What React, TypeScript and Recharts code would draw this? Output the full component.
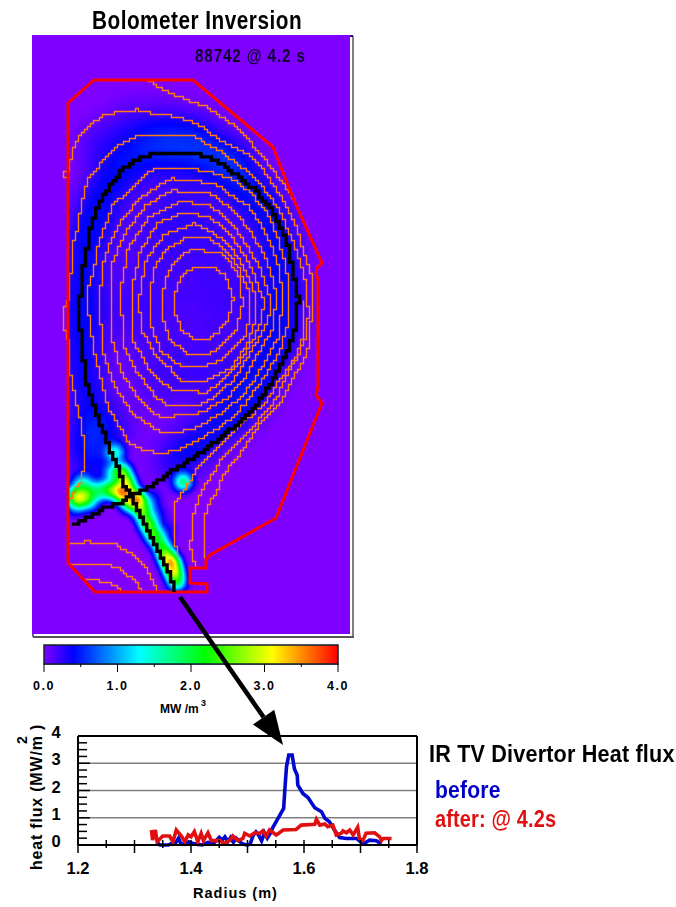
import React from 'react'
import {
  ScatterChart,
  Scatter,
  LineChart,
  Line,
  XAxis,
  YAxis,
  ReferenceLine,
} from 'recharts'

type Pt = [number, number]
type Hot = [number, number, number]

// colour scale of the inversion, MW/m3
const COLOR_LEVELS = [0, 0.4, 1.3, 2.2, 3.1, 4]
const COLOR_RGB = [
  [128, 0, 255],
  [0, 0, 255],
  [0, 255, 255],
  [0, 255, 0],
  [255, 255, 0],
  [255, 0, 0],
]
const COLORBAR_TICKS = [0, 0.5, 1, 1.5, 2, 2.5, 3, 3.5, 4]

// map coordinates
const vessel: Pt[] = [
  [94, 80], [193, 80], [273, 147], [293, 198], [322, 263], [317, 268], [316, 273], [318, 280], [318, 387],
  [316, 395], [322, 403], [276, 518], [210, 555], [206, 560], [206, 568], [190, 568], [190, 583], [207, 584],
  [207, 592], [95, 592], [68, 563], [68, 103], [94, 80],
]

const separatrix: Pt[] = [
  [72, 525], [87, 518], [103, 508], [120, 502], [130, 495], [122, 482], [117, 463], [110, 450], [100, 423],
  [95, 407], [90, 393], [85, 380], [85, 367], [82, 357], [81, 332], [77, 327], [77, 300], [81, 293], [81, 270],
  [85, 260], [88, 237], [93, 217], [102, 197], [113, 180], [123, 168], [135, 160], [157, 152], [195, 152],
  [220, 163], [240, 177], [257, 192], [273, 212], [287, 243], [293, 273], [298, 300], [295, 327], [287, 353],
  [273, 380], [257, 403], [242, 420], [217, 440], [197, 455], [173, 470], [157, 482], [137, 492], [132, 497],
  [133, 503], [142, 520], [153, 543], [167, 567], [175, 590],
]

const ring1: Pt[] = [
  [195, 267], [212, 267], [223, 273], [228, 283], [233, 300], [227, 320], [217, 333], [208, 338], [193, 338],
  [182, 330], [175, 313], [174, 297], [177, 285], [183, 272], [195, 267],
]
const ring2: Pt[] = [
  [190, 250], [217, 251], [230, 262], [240, 280], [242, 303], [236, 330], [217, 350], [207, 354], [188, 353],
  [170, 340], [162, 317], [161, 297], [167, 273], [177, 257], [190, 250],
]
const ring3: Pt[] = [
  [187, 237], [208, 238], [225, 250], [237, 265], [248, 290], [250, 310], [245, 335], [224, 358], [202, 367],
  [183, 367], [160, 350], [150, 323], [149, 297], [155, 263], [168, 247], [187, 237],
]
const ring4: Pt[] = [
  [193, 223], [205, 228], [220, 238], [232, 250], [245, 270], [255, 295], [256, 315], [248, 343], [232, 367],
  [207, 380], [180, 380], [170, 367], [157, 357], [140, 327], [139, 297], [145, 260], [163, 235], [193, 223],
]
const ring5: Pt[] = [
  [182, 213], [205, 215], [218, 224], [230, 235], [243, 253], [255, 277], [263, 300], [262, 320], [255, 335],
  [242, 358], [225, 378], [207, 392], [172, 390], [147, 367], [132, 337], [131, 290], [140, 250], [157, 223],
  [182, 213],
]
const ring6: Pt[] = [
  [177, 202], [205, 203], [217, 210], [230, 222], [243, 240], [257, 263], [268, 290], [270, 310], [263, 330],
  [250, 352], [235, 378], [215, 396], [198, 405], [168, 405], [157, 397], [135, 370], [122, 343], [121, 285],
  [128, 247], [150, 215], [177, 202],
]
const ring7: Pt[] = [
  [170, 190], [210, 193], [230, 208], [247, 227], [263, 253], [270, 270], [276, 295], [272, 330], [258, 352],
  [245, 378], [227, 398], [205, 410], [190, 415], [160, 416], [153, 413], [135, 393], [122, 373], [112, 340],
  [110, 300], [112, 262], [125, 232], [145, 205], [170, 190],
]
const ring8: Pt[] = [
  [170, 178], [215, 183], [230, 195], [247, 205], [260, 223], [270, 243], [278, 267], [283, 295], [278, 337],
  [270, 352], [255, 378], [240, 398], [222, 412], [205, 422], [190, 430], [160, 432], [135, 415], [123, 400],
  [113, 383], [102, 347], [99, 300], [103, 262], [112, 237], [123, 217], [140, 197], [170, 178],
]
const ring9: Pt[] = [
  [150, 170], [170, 167], [205, 170], [230, 178], [250, 192], [267, 213], [277, 237], [285, 263], [289, 290],
  [288, 320], [280, 350], [265, 375], [248, 400], [232, 417], [215, 430], [197, 440], [177, 450], [160, 453],
  [145, 450], [130, 443], [117, 422], [108, 407], [103, 387], [93, 347], [88, 310], [88, 285], [93, 272],
  [98, 243], [113, 203], [130, 190], [150, 170],
]

// contours outside the separatrix
const outerTop: Pt[] = [
  [147, 80], [170, 93], [207, 107], [240, 130], [263, 157], [273, 170], [290, 193], [294, 200],
]
const outerA: Pt[] = [
  [68, 178], [64, 178], [64, 170], [68, 170], [70, 160], [75, 142], [82, 132], [93, 122], [105, 114], [115, 112],
  [132, 111], [137, 108], [140, 112], [160, 113], [170, 115], [197, 123], [220, 140], [247, 153], [263, 170],
  [283, 200], [295, 225], [305, 257], [312, 280], [313, 313], [310, 323], [308, 348], [302, 363], [293, 377],
  [282, 400], [260, 423], [240, 453], [223, 475], [218, 487], [208, 507], [205, 515], [205, 557],
]
const outerB: Pt[] = [
  [70, 498], [82, 477], [83, 463], [85, 452], [80, 420], [77, 407], [73, 388], [70, 370], [69, 355],
  [67, 331], [64, 330], [64, 307], [67, 304], [70, 277], [72, 260], [73, 242], [77, 227], [83, 195], [88, 178],
  [95, 170], [102, 160], [110, 152], [120, 143], [132, 138], [140, 135], [190, 135], [220, 150], [253, 177],
  [273, 200], [285, 223], [296, 250], [305, 280], [308, 313], [305, 337], [298, 355], [288, 372], [275, 400],
  [247, 433], [223, 457], [213, 473], [203, 488], [195, 507], [192, 520], [190, 547], [195, 567],
]
const outerC: Pt[] = [
  [303, 300], [302, 337], [297, 353], [287, 370], [277, 383], [267, 400], [243, 423], [217, 447], [197, 468],
  [185, 488], [175, 503], [174, 533], [177, 557],
]
const floorA: Pt[] = [
  [68, 543], [80, 543], [83, 541], [113, 543], [130, 553], [147, 570], [158, 592],
]
const floorB: Pt[] = [
  [68, 563], [103, 563], [120, 568], [137, 583], [142, 592],
]
const floorC: Pt[] = [
  [85, 578], [108, 582], [118, 587], [123, 592],
]

// emission in MW/m3, low wide background
const coreGlow: Hot[] = [
  [150, 240, 0.2], [215, 235, 0.2], [130, 310, 0.2], [190, 300, 0.14], [250, 300, 0.2], [165, 375, 0.2],
  [225, 370, 0.2], [180, 185, 0.2],
]
const edgeGlow: Hot[] = [
  [85, 240, 0.28], [82, 270, 0.28], [80, 300, 0.28], [80, 330, 0.28], [82, 360, 0.28], [86, 390, 0.28],
  [94, 215, 0.28], [104, 190, 0.28], [122, 168, 0.28], [145, 150, 0.28], [170, 146, 0.28], [197, 150, 0.28],
  [222, 162, 0.28], [241, 177, 0.28], [258, 195, 0.26], [270, 215, 0.24], [280, 240, 0.24], [283, 265, 0.24],
  [285, 295, 0.24], [283, 325, 0.24], [275, 350, 0.24], [262, 375, 0.24], [247, 398, 0.24], [230, 418, 0.24],
  [210, 435, 0.24], [190, 450, 0.24], [172, 462, 0.2], [92, 420, 0.28], [88, 445, 0.3], [95, 470, 0.28],
  [112, 430, 0.2],
  [100, 145, 0.2], [130, 125, 0.2], [165, 122, 0.2], [200, 130, 0.2], [235, 152, 0.16],
]
const hotSpots: Hot[] = [
  [115, 453, 1.5],
  [78, 498, 2.6], [85, 496, 2.0], [82, 484, 1.5], [72, 495, 1.3], [90, 503, 1.1], [76, 507, 0.9], [93, 490, 1.1],
  [101, 492, 1.3], [110, 489, 1.9], [118, 491, 2.2],
  [113, 473, 1.2], [122, 472, 2.4], [126, 482, 2.8], [123, 493, 3.4], [131, 492, 2.0], [137, 500, 3.8], [129, 503, 2.2],
  [142, 512, 2.6], [148, 524, 2.6], [154, 535, 2.4], [161, 545, 2.0], [166, 555, 2.6], [171, 563, 3.6], [174, 572, 3.0],
  [177, 582, 2.0],
  [183, 482, 1.9], [152, 499, 0.5], [157, 515, 0.6], [147, 505, 0.6], [167, 530, 0.4],
]

// heat flux profiles, radius in m, flux in MW/m2
const beforeRadius = [
  1.34, 1.345, 1.36, 1.368, 1.372, 1.378, 1.382, 1.39, 1.396, 1.404, 1.42, 1.43, 1.44, 1.45, 1.455, 1.46, 1.465,
  1.47, 1.475, 1.48, 1.49, 1.5, 1.505, 1.51, 1.515, 1.52, 1.525, 1.53, 1.535, 1.54, 1.545, 1.554, 1.564, 1.566,
  1.569, 1.573, 1.579, 1.583, 1.588, 1.589, 1.598, 1.607, 1.619, 1.631, 1.637, 1.645, 1.654, 1.663, 1.675, 1.693,
  1.7, 1.707, 1.716, 1.728, 1.737,
]
const beforeFlux = [
  0.1, 0, 0, 0.08, 0.05, 0.25, 0.05, 0.02, 0.12, 0.05, 0, 0.1, 0.06, 0.28, 0.18, 0.3, 0.12, 0.28, 0.1, 0.25, 0.05,
  0, 0.05, 0.35, 0.48, 0.35, 0.15, 0.45, 0.25, 0.42, 0.65, 0.98, 1.34, 2.0, 2.87, 3.3, 3.3, 2.8, 2.56, 2.2, 1.89,
  1.74, 1.37, 1.22, 0.98, 0.85, 0.55, 0.27, 0.24, 0.24, 0.12, 0.06, 0.18, 0.16, 0.04,
]
const afterRadius = [
  1.33, 1.332, 1.337, 1.34, 1.35, 1.362, 1.368, 1.374, 1.383, 1.389, 1.395, 1.4, 1.406, 1.412, 1.418, 1.422, 1.43,
  1.436, 1.451, 1.458, 1.468, 1.474, 1.483, 1.492, 1.495, 1.504, 1.513, 1.522, 1.527, 1.533, 1.539, 1.551, 1.563,
  1.586, 1.595, 1.619, 1.622, 1.628, 1.637, 1.642, 1.651, 1.657, 1.666, 1.669, 1.675, 1.681, 1.687, 1.695, 1.698,
  1.704, 1.71, 1.725, 1.734, 1.737, 1.74, 1.755,
]
const afterFlux = [
  0.55, 0.18, 0.55, 0.12, 0.33, 0.33, 0.12, 0.55, 0.33, 0.12, 0.37, 0.3, 0.49, 0.12, 0.43, 0.16, 0.45, 0.16, 0.16,
  0.06, 0.16, 0.33, 0.16, 0.24, 0.43, 0.33, 0.45, 0.43, 0.52, 0.33, 0.55, 0.37, 0.55, 0.57, 0.73, 0.76, 0.94, 0.73,
  0.77, 0.67, 0.73, 0.37, 0.43, 0.52, 0.45, 0.55, 0.37, 0.65, 0.24, 0.16, 0.43, 0.45, 0.3, 0.16, 0.24, 0.24,
]
const radiusTicks = [1.2, 1.25, 1.3, 1.35, 1.4, 1.45, 1.5, 1.55, 1.6, 1.65, 1.7, 1.75, 1.8]
const fluxTicks = [0, 0.25, 0.5, 0.75, 1, 1.25, 1.5, 1.75, 2, 2.25, 2.5, 2.75, 3, 3.25, 3.5, 3.75, 4]
const fluxGrid = [1, 2, 3]

const toPoints = (list: Pt[]) => list.map(([x, y]) => ({ x, y }))
const toProfile = (radius: number[], flux: number[]) => radius.map((r, i) => ({ r, q: flux[i] }))

const jetAt = (level: number, channel: number) => {
  let i = 0
  while (i < COLOR_LEVELS.length - 2 && level > COLOR_LEVELS[i + 1]) i++
  const t = (level - COLOR_LEVELS[i]) / (COLOR_LEVELS[i + 1] - COLOR_LEVELS[i])
  return (COLOR_RGB[i][channel] + t * (COLOR_RGB[i + 1][channel] - COLOR_RGB[i][channel])) / 255
}
const jetTable = (channel: number) =>
  Array.from({ length: 41 }, (_, i) => jetAt(i / 10, channel).toFixed(3)).join(' ')

const heatField = [
  ...coreGlow.map(([x, y, level]) => ({ x, y, level, radius: 75 })),
  ...edgeGlow.map(([x, y, level]) => ({ x, y, level, radius: 44 })),
  ...hotSpots.map(([x, y, level]) => ({ x, y, level, radius: 16 })),
]

// the original is drawn on a coarse grid, so lines come out as stairs
const stairPath = (points: { x: number; y: number }[], grid: number) => {
  const snap = (v: number) => Math.round(v / grid) * grid
  let cx = snap(points[0].x)
  let cy = snap(points[0].y)
  let d = `M${cx} ${cy}`
  for (let i = 1; i < points.length; i++) {
    const a = points[i - 1]
    const b = points[i]
    const n = Math.ceil(Math.hypot(b.x - a.x, b.y - a.y))
    for (let k = 1; k <= n; k++) {
      const sx = snap(a.x + ((b.x - a.x) * k) / n)
      const sy = snap(a.y + ((b.y - a.y) * k) / n)
      if (sx !== cx) {
        d += `H${sx}`
        cx = sx
      }
      if (sy !== cy) {
        d += `V${sy}`
        cy = sy
      }
    }
  }
  return d
}

const NoMark = () => <g />

const stairLine = (grid: number, stroke: string, width: number) => (props: any) => (
  <path
    d={stairPath(props.points, grid)}
    transform="translate(0.5 0.5)"
    fill="none"
    stroke={stroke}
    strokeWidth={width}
  />
)

const outsideVessel = (props: any) => {
  const inner = props.points.map((p: any, i: number) => `${i ? 'L' : 'M'}${p.x} ${p.y}`).join('')
  return <path d={`M32 35H350V634H32Z${inner}Z`} fill="#7f00ff" fillRule="evenodd" stroke="none" />
}

const arrowLine = (props: any) => {
  const [from, to] = props.points
  const len = Math.hypot(to.x - from.x, to.y - from.y)
  const ux = (to.x - from.x) / len
  const uy = (to.y - from.y) / len
  const bx = to.x - ux * 34
  const by = to.y - uy * 34
  return (
    <g>
      <line x1={from.x} y1={from.y} x2={bx} y2={by} stroke="#000" strokeWidth={4.5} />
      <polygon
        points={`${to.x},${to.y} ${bx - uy * 13},${by + ux * 13} ${bx + uy * 13},${by - ux * 13}`}
        fill="#000"
      />
    </g>
  )
}

const colorbarFill = (props: any) => {
  const [a, b] = props.points
  return (
    <rect
      x={a.x}
      y={a.y}
      width={b.x - a.x}
      height={b.y - a.y}
      fill="url(#jetBar)"
      stroke="#102030"
      strokeWidth={1.5}
    />
  )
}

const HeatMark = (props: any) => (
  <circle
    cx={props.cx}
    cy={props.cy}
    r={props.payload.radius}
    fill="url(#heatKernel)"
    opacity={Math.min(1, props.payload.level / 4)}
  />
)

const contours = [ring1, ring2, ring3, ring4, ring5, ring6, ring7, ring8, ring9, outerTop, outerA, outerB, outerC, floorA, floorB, floorC]

const ARIAL = '"Liberation Sans", Arial, sans-serif'

// the fonts of the picture are condensed, so text is squeezed sideways
const label = (
  text: React.ReactNode,
  left: number,
  top: number,
  size: number,
  color = '#000',
  squeeze = 1,
  spacing = 0,
) => (
  <div
    style={{
      position: 'absolute',
      left,
      top,
      fontFamily: ARIAL,
      fontWeight: 700,
      fontSize: size,
      lineHeight: 1,
      color,
      letterSpacing: spacing,
      whiteSpace: 'nowrap',
      transform: `scaleX(${squeeze})`,
      transformOrigin: '0 0',
    }}
  >
    {text}
  </div>
)

const TickText = ({ x, y, children }: any) => (
  <text x={x} y={y} textAnchor="middle" fontFamily={ARIAL} fontWeight={700} fontSize={16.5} fill="#000">
    {children}
  </text>
)

const BottomTick = ({ x, y, payload }: any) => {
  const tenths = Math.round(payload.value * 100)
  const major = tenths % 10 === 0
  return (
    <g>
      <line x1={x} x2={x} y1={y - 5} y2={y + (major ? 8 : 3)} stroke="#000" strokeWidth={1.5} />
      {tenths % 20 === 0 && <TickText x={x} y={y + 29}>{payload.value.toFixed(1)}</TickText>}
    </g>
  )
}

const TopTick = ({ x, y, payload }: any) => {
  const major = Math.round(payload.value * 100) % 10 === 0
  return <line x1={x} x2={x} y1={y - (major ? 9 : 4)} y2={y + (major ? 8 : 6)} stroke="#000" strokeWidth={1.5} />
}

const LeftTick = ({ x, y, payload }: any) => {
  const major = Number.isInteger(payload.value)
  return (
    <g>
      <line x1={x} x2={x + (major ? 12 : 9)} y1={y} y2={y} stroke="#000" strokeWidth={1.5} />
      {major && <TickText x={x - 22} y={y + 2}>{payload.value}</TickText>}
    </g>
  )
}

const RightTick = ({ x, y, payload }: any) => {
  const major = Number.isInteger(payload.value)
  return <line x1={x} x2={x - (major ? 11 : 5)} y1={y} y2={y} stroke="#000" strokeWidth={1.5} />
}

const ColorbarTick = ({ x, y, payload }: any) => {
  const major = Number.isInteger(payload.value)
  return (
    <g>
      <line x1={x} x2={x} y1={y} y2={y + (major ? 8 : 3)} stroke="#000" strokeWidth={1} />
      {major && (
        <text
          x={x}
          y={y + 26}
          textAnchor="middle"
          fontFamily={ARIAL}
          fontWeight={700}
          fontSize={12.5}
          letterSpacing={1.6}
          fill="#000"
        >
          {payload.value.toFixed(1)}
        </text>
      )}
    </g>
  )
}

const flatAxis = {
  type: 'number' as const,
  interval: 0 as const,
  tickLine: false,
  tickSize: 0,
  tickMargin: 0,
  axisLine: { stroke: '#000', strokeWidth: 2 },
}

const App = () => {
  return (
    <div style={{ position: 'absolute', left: 0, top: 0, width: 676, height: 907, overflow: 'hidden', background: '#fff' }}>
      <style>{'.heat-field { filter: url(#jetField); }'}</style>

      {/* inversion map, one axis unit is one pixel of the picture */}
      <div style={{ position: 'absolute', left: 0, top: 0 }}>
        <ScatterChart width={676} height={640} margin={{ top: 0, right: 0, bottom: 0, left: 0 }}>
          <defs>
            <radialGradient id="heatKernel">
              <stop offset="0" stopColor="#000" stopOpacity={1} />
              <stop offset="0.25" stopColor="#000" stopOpacity={0.8} />
              <stop offset="0.5" stopColor="#000" stopOpacity={0.42} />
              <stop offset="0.75" stopColor="#000" stopOpacity={0.12} />
              <stop offset="1" stopColor="#000" stopOpacity={0} />
            </radialGradient>
            <filter
              id="jetField"
              filterUnits="userSpaceOnUse"
              x={32}
              y={35}
              width={318}
              height={599}
              colorInterpolationFilters="sRGB"
            >
              <feGaussianBlur stdDeviation={2} />
              <feColorMatrix type="matrix" values="0 0 0 1 0  0 0 0 1 0  0 0 0 1 0  0 0 0 0 1" />
              <feComponentTransfer>
                <feFuncR type="table" tableValues={jetTable(0)} />
                <feFuncG type="table" tableValues={jetTable(1)} />
                <feFuncB type="table" tableValues={jetTable(2)} />
              </feComponentTransfer>
            </filter>
          </defs>
          <XAxis type="number" dataKey="x" domain={[0, 676]} hide />
          <YAxis type="number" dataKey="y" domain={[0, 640]} reversed hide />
          <Scatter data={heatField} className="heat-field" shape={HeatMark} isAnimationActive={false} />
          <Scatter data={toPoints(vessel)} shape={NoMark} line={outsideVessel} isAnimationActive={false} />
          {contours.map((c, i) => (
            <Scatter
              key={i}
              data={toPoints(c)}
              shape={NoMark}
              line={stairLine(3, '#ff7a10', 1.4)}
              isAnimationActive={false}
            />
          ))}
          <Scatter
            data={toPoints(vessel)}
            shape={NoMark}
            line={{ stroke: '#ff0000', strokeWidth: 3 }}
            isAnimationActive={false}
          />
          <Scatter data={toPoints(separatrix)} shape={NoMark} line={stairLine(3.4, '#000', 3.4)} isAnimationActive={false} />
          <ReferenceLine segment={[{ x: 32, y: 36 }, { x: 353, y: 36 }]} stroke="#3c0a90" strokeWidth={2} />
          <ReferenceLine segment={[{ x: 33, y: 36 }, { x: 33, y: 637 }]} stroke="#3a2a70" strokeWidth={1.5} />
          <ReferenceLine segment={[{ x: 353, y: 36 }, { x: 353, y: 637 }]} stroke="#000" strokeWidth={1} />
          <ReferenceLine segment={[{ x: 33, y: 637 }, { x: 354, y: 637 }]} stroke="#555" strokeWidth={2} />
        </ScatterChart>
      </div>

      {/* colour bar */}
      <div style={{ position: 'absolute', left: 0, top: 640 }}>
        <ScatterChart width={400} height={60} margin={{ top: 5, right: 62, bottom: 35, left: 44 }}>
          <defs>
            <linearGradient id="jetBar" x1="0" x2="1" y1="0" y2="0">
              {COLOR_LEVELS.map((level, i) => (
                <stop key={level} offset={level / 4} stopColor={`rgb(${COLOR_RGB[i].join(',')})`} />
              ))}
            </linearGradient>
          </defs>
          <XAxis
            {...flatAxis}
            dataKey="x"
            domain={[0, 4]}
            ticks={COLORBAR_TICKS}
            height={1}
            tick={ColorbarTick}
            axisLine={{ stroke: '#000', strokeWidth: 1 }}
          />
          <YAxis type="number" dataKey="y" domain={[0, 1]} hide />
          <Scatter
            data={toPoints([[0, 1], [4, 0]])}
            shape={NoMark}
            line={colorbarFill}
            isAnimationActive={false}
          />
        </ScatterChart>
      </div>

      {/* divertor heat flux */}
      <div style={{ position: 'absolute', left: 0, top: 720 }}>
        <LineChart width={440} height={187} margin={{ top: 15, right: 22, bottom: 61, left: 77 }}>
          <XAxis {...flatAxis} dataKey="r" domain={[1.2, 1.8]} ticks={radiusTicks} height={1} tick={BottomTick} />
          <XAxis
            {...flatAxis}
            xAxisId="top"
            orientation="top"
            dataKey="r"
            domain={[1.2, 1.8]}
            ticks={radiusTicks}
            height={1}
            tick={TopTick}
          />
          <YAxis {...flatAxis} domain={[0, 4]} ticks={fluxTicks} width={1} tick={LeftTick} />
          <YAxis
            {...flatAxis}
            yAxisId="right"
            orientation="right"
            domain={[0, 4]}
            ticks={fluxTicks}
            width={1}
            tick={RightTick}
          />
          {fluxGrid.map((q) => (
            <ReferenceLine key={q} y={q} stroke="#808080" strokeWidth={1.5} />
          ))}
          <Line
            data={toProfile(beforeRadius, beforeFlux)}
            dataKey="q"
            stroke="#0008d0"
            strokeWidth={3.6}
            dot={false}
            isAnimationActive={false}
          />
          <Line
            data={toProfile(afterRadius, afterFlux)}
            dataKey="q"
            stroke="#e01010"
            strokeWidth={3.6}
            dot={false}
            isAnimationActive={false}
          />
        </LineChart>
      </div>

      {/* arrow from the strike point down to the profile */}
      <div style={{ position: 'absolute', left: 0, top: 0, pointerEvents: 'none' }}>
        <ScatterChart width={676} height={907} margin={{ top: 0, right: 0, bottom: 0, left: 0 }}>
          <XAxis type="number" dataKey="x" domain={[0, 676]} hide />
          <YAxis type="number" dataKey="y" domain={[0, 907]} reversed hide />
          <Scatter
            data={toPoints([[180, 597], [283, 745]])}
            shape={NoMark}
            line={arrowLine}
            isAnimationActive={false}
          />
        </ScatterChart>
      </div>

      {label('Bolometer Inversion', 92, 8, 25, '#000', 0.83, 0.6)}
      {label('88742 @ 4.2 s', 195, 48, 17.5, '#100030', 0.87, 1)}
      {label('MW /m', 160, 703, 12, '#000')}
      {label('3', 201, 699, 9, '#000')}
      {label('IR TV Divertor Heat flux', 429, 742, 24, '#000', 0.9, 0.2)}
      {label('before', 435, 778, 24, '#0000c8', 0.88, 0.2)}
      {label('after: @ 4.2s', 435, 807, 24, '#e01010', 0.83, 0.2)}
      {label('Radius (m)', 193, 886, 14.5, '#000', 1, 1)}
      <div
        style={{
          position: 'absolute',
          left: 29,
          top: 870,
          transform: 'rotate(-90deg)',
          transformOrigin: '0 0',
          fontFamily: ARIAL,
          fontWeight: 700,
          fontSize: 16,
          lineHeight: 1,
          letterSpacing: 0.8,
          whiteSpace: 'nowrap',
        }}
      >
        heat flux (MW/m )
      </div>
      <div
        style={{
          position: 'absolute',
          left: 15,
          top: 744,
          transform: 'rotate(-90deg)',
          transformOrigin: '0 0',
          fontFamily: ARIAL,
          fontWeight: 700,
          fontSize: 14,
          lineHeight: 1,
        }}
      >
        2
      </div>
    </div>
  )
}

export default App
